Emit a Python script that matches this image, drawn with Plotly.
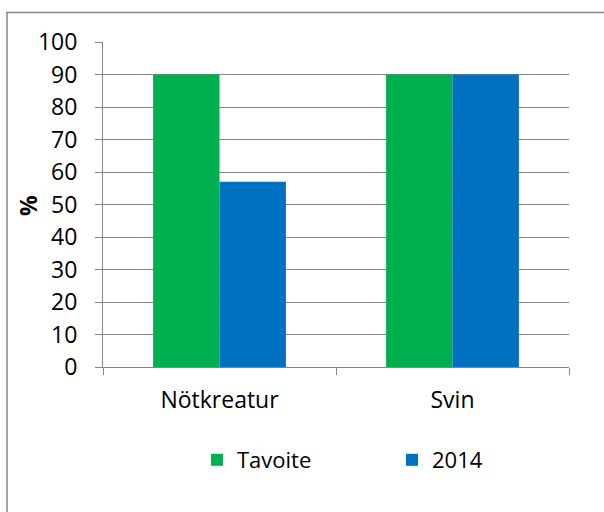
import plotly.graph_objects as go

categories = ["Nötkreatur", "Svin"]
tavoite = [90, 90]
values_2014 = [57, 90]
series_names = ["Tavoite", "2014"]
y_ticks = list(range(0, 101, 10))
y_title = "%"

W, H = 604, 512
L, R, T, B = 103, 569, 42, 367

def px_x(p):
    return (p - L) / (R - L)

def px_y(p):
    return (B - p) / (B - T)

font_family = "Open Sans, Liberation Sans, sans-serif"
grid_col = "#868686"

fig = go.Figure()
fig.add_trace(go.Bar(x=categories, y=tavoite, name=series_names[0],
                     marker=dict(color="#00B050", line=dict(width=0))))
fig.add_trace(go.Bar(x=categories, y=values_2014, name=series_names[1],
                     marker=dict(color="#0070C0", line=dict(width=0))))

fig.update_layout(
    width=W, height=H,
    margin=dict(l=L, r=W - R, t=T, b=H - B, autoexpand=False),
    paper_bgcolor="white", plot_bgcolor="white",
    barmode="group", bargap=0.43, bargroupgap=0,
    font=dict(family=font_family, size=23, color="#000000"),
    showlegend=True,
    legend=dict(orientation="h", x=px_x(197), xanchor="left",
                y=px_y(460), yanchor="middle",
                entrywidth=150, entrywidthmode="pixels",
                font=dict(size=22), bgcolor="rgba(0,0,0,0)"),
    xaxis=dict(showgrid=False, showline=True, linecolor=grid_col, linewidth=1,
               ticks="outside", tickson="boundaries", ticklen=7, tickcolor=grid_col,
               ticklabelstandoff=12, automargin=False),
    yaxis=dict(range=[0, 100], tickvals=y_ticks, showgrid=True, gridcolor=grid_col,
               gridwidth=1, showline=True, linecolor=grid_col, linewidth=1,
               ticks="outside", ticklen=7, tickcolor=grid_col,
               ticklabelstandoff=13, zeroline=False, automargin=False),
    annotations=[dict(text=f"<b>{y_title}</b>", xref="paper", yref="paper",
                      x=px_x(28), y=px_y(206), xanchor="center", yanchor="middle",
                      textangle=-90, showarrow=False, font=dict(size=23))],
    shapes=[dict(type="rect", xref="paper", yref="paper",
                 x0=px_x(7), x1=px_x(640), y0=px_y(560), y1=px_y(12.5),
                 line=dict(color=grid_col, width=1.5), layer="below")],
)

fig.write_html("out.html", post_script="document.body.style.margin='0';",
               config={"displayModeBar": False})
